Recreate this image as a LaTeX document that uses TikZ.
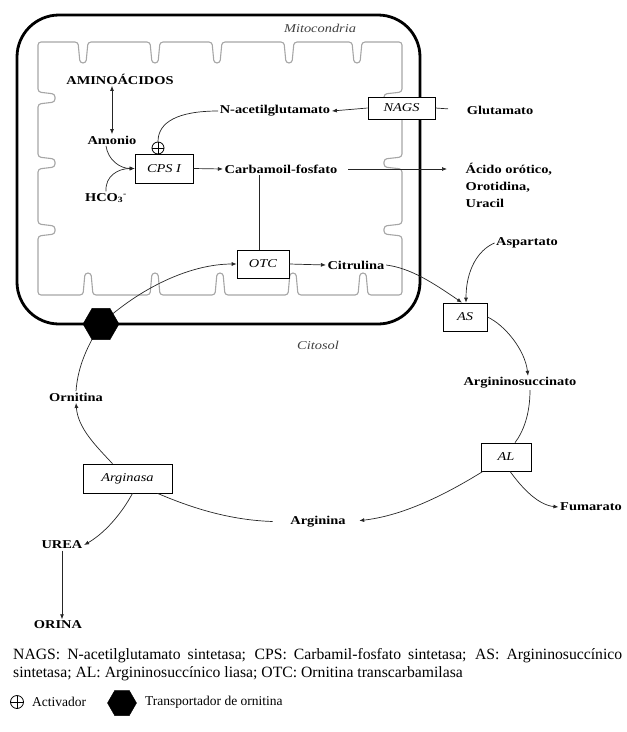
\documentclass[tikz,border=0pt]{standalone}
\usepackage{fontspec}
\setmainfont{Liberation Serif}
\newfontfamily\labf[FakeStretch=1.2]{Liberation Serif}
\usetikzlibrary{shapes.geometric,arrows.meta}
\begin{document}
\begin{tikzpicture}[x=1pt,y=-1pt,
  lab/.style={font=\labf\bfseries\fontsize{12}{14}\selectfont, inner sep=1.5pt},
  enz/.style={draw, line width=0.7pt, fill=white, font=\labf\itshape\fontsize{12}{14}\selectfont, inner sep=0pt},
  itl/.style={font=\labf\itshape\fontsize{12}{14}\selectfont, text=black!75},
  conn/.style={line width=0.7pt, draw=black!85},
  arr/.style={conn, -{Latex[length=5pt,width=4pt]}},
  plusmark/.style={circle, draw, line width=0.8pt, fill=white, minimum size=12pt, inner sep=0pt,
    path picture={\draw[line width=0.8pt] (path picture bounding box.north) -- (path picture bounding box.south)
      (path picture bounding box.west) -- (path picture bounding box.east);}},
  hexa/.style={regular polygon, regular polygon sides=6, fill=black, draw=black, minimum size=36pt, inner sep=0pt},
  legt/.style={font=\fontsize{15.7}{18}\selectfont, inner sep=0pt},
  legs/.style={font=\fontsize{13.5}{16}\selectfont, inner sep=0pt}
]
\useasboundingbox (0,0) rectangle (627,732);
% outer membrane
\draw[line width=2.8pt, rounded corners=42pt] (17,15) rectangle (420,324);
% inner membrane
\draw[black!35, line width=1.1pt, rounded corners=3pt] (38,42)
  \foreach \c in {83,155,217,289,357}{ -- (\c-5,42) -- (\c-3,63) -- (\c+3,63) -- (\c+5,42) }
  -- (402,42)
  \foreach \c in {98,163,230}{ -- (402,\c-6) -- (384,\c-4) -- (384,\c+4) -- (402,\c+6) }
  -- (402,295)
  \foreach \c in {363,293,220,155,88}{ -- (\c+5,295) -- (\c+3,273) -- (\c-3,273) -- (\c-5,295) }
  -- (38,295)
  \foreach \c in {230,163,98}{ -- (38,\c+6) -- (55,\c+4) -- (55,\c-4) -- (38,\c-6) }
  -- cycle;

\node[itl] (mito) at (320,28) {Mitocondria};
\node[itl] (cito) at (318,345) {Citosol};
\node[lab] (amino) at (120,79) {AMINOÁCIDOS};
\node[lab] (amon) at (112,140) {Amonio};
\node[lab] (hco) at (106,198) {HCO\textsubscript{3}\textsuperscript{-}};
\node[enz, minimum width=58pt, minimum height=29pt] (cps) at (164,168.5) {CPS I};
\node[plusmark] (act) at (158,148) {};
\node[lab] (nac) at (275,111) {N-acetilglutamato};
\node[enz, minimum width=67pt, minimum height=22pt] (nags) at (401.5,108) {NAGS};
\node[lab] (glu) at (500,110) {Glutamato};
\node[lab] (carb) at (281,169) {Carbamoil-fosfato};
\node[lab, font=\labf\bfseries\fontsize{12}{17}\selectfont, align=left, anchor=north west] (oro) at (464,161) {Ácido orótico,\\Orotidina,\\Uracil};
\node[enz, minimum width=52pt, minimum height=28pt] (otc) at (263,264) {OTC};
\node[lab] (cit) at (356,265) {Citrulina};
\node[lab] (asp) at (527,243) {Aspartato};
\node[enz, minimum width=44pt, minimum height=28pt] (as) at (465,317) {AS};
\node[lab] (asuc) at (520,383) {Argininosuccinato};
\node[enz, minimum width=50pt, minimum height=28pt] (al) at (506,457) {AL};
\node[lab] (fum) at (591,507) {Fumarato};
\node[lab] (arg) at (318,522) {Arginina};
\node[enz, minimum width=89pt, minimum height=29pt] (asa) at (127.5,478.5) {Arginasa};
\node[lab] (orn) at (76,397) {Ornitina};
\node[lab] (urea) at (62,545) {UREA};
\node[lab] (orina) at (58,625) {ORINA};
\coordinate (hexc) at (101,324);

% connectors
\draw[conn, {Latex[length=5pt,width=4pt]}-{Latex[length=5pt,width=4pt]}] (amon.north) -- (amon.north |- amino.south);
\draw[arr] ([xshift=-6pt]amon.south) .. controls (108,160) and (120,168.5) .. (cps.west);
\draw[arr] (hco.north) .. controls (105,176) and (118,168.5) .. (cps.west);
\draw[conn] (nac.west) .. controls (178,111) and (158,122) .. (act.north);
\draw[arr] (nags.west) -- (nac.east);
\draw[conn, shorten <=17pt] (glu.west) -- (nags.east);
\draw[arr] (cps.east) -- (carb.west);
\draw[arr, shorten <=9pt, shorten >=17pt] (carb.east) -- (carb.east -| oro.west);
\draw[conn] ([xshift=-4pt]otc.north) -- ([xshift=-4pt]otc.north |- carb.south);
\draw[arr] (otc.east) -- (cit.west);
\draw[arr] (cit.east) .. controls (410,268) and (432,282) .. ([xshift=-3pt]as.north);
\draw[arr] (asp.west) .. controls (478,250) and (466,270) .. ([xshift=1pt]as.north);
\draw[arr] (as.east) .. controls (505,325) and (525,350) .. ([xshift=8pt]asuc.north);
\draw[conn] ([xshift=10pt]asuc.south) .. controls (530,415) and (523,432) .. ([xshift=9pt]al.north);
\draw[arr] ([xshift=4pt]al.south) .. controls (522,488) and (538,505) .. (fum.west);
\draw[arr, shorten >=12pt] ([xshift=-23pt]al.south) .. controls (440,498) and (400,516) .. (arg.east);
\draw[conn, shorten <=16pt] (arg.west) .. controls (225,520) and (185,505) .. ([xshift=30pt]asa.south);
\draw[arr] ([xshift=-15pt]asa.north) .. controls (95,445) and (78,428) .. (orn.south);
\draw[arr] ([xshift=5pt]asa.south) .. controls (122,513) and (105,533) .. (urea.east);
\draw[arr] (urea.south) -- (urea.south |- orina.north);
\draw[conn] (orn.north) .. controls (78,365) and (88,345) .. (hexc);
\draw[arr] (hexc) .. controls (140,288) and (190,264) .. (otc.west);
\node[hexa] (hex) at (hexc) {};

% legend
\node[legt, anchor=base west] (leg1) at (13,659) {\makebox[609pt][s]{NAGS: N-acetilglutamato sintetasa; CPS: Carbamil-fosfato sintetasa; AS: Argininosuccínico}};
\node[legt, anchor=base west] (leg2) at (13,677) {sintetasa; AL: Argininosuccínico liasa; OTC: Ornitina transcarbamilasa};
\node[plusmark, minimum size=13pt] (lplus) at (17,702) {};
\node[legs, anchor=west] (lact) at (32,702) {Activador};
\node[hexa, minimum size=29pt] (lhex) at (122,703) {};
\node[legs, anchor=west] (ltr) at (145,702) {Transportador de ornitina};
\end{tikzpicture}
\end{document}
